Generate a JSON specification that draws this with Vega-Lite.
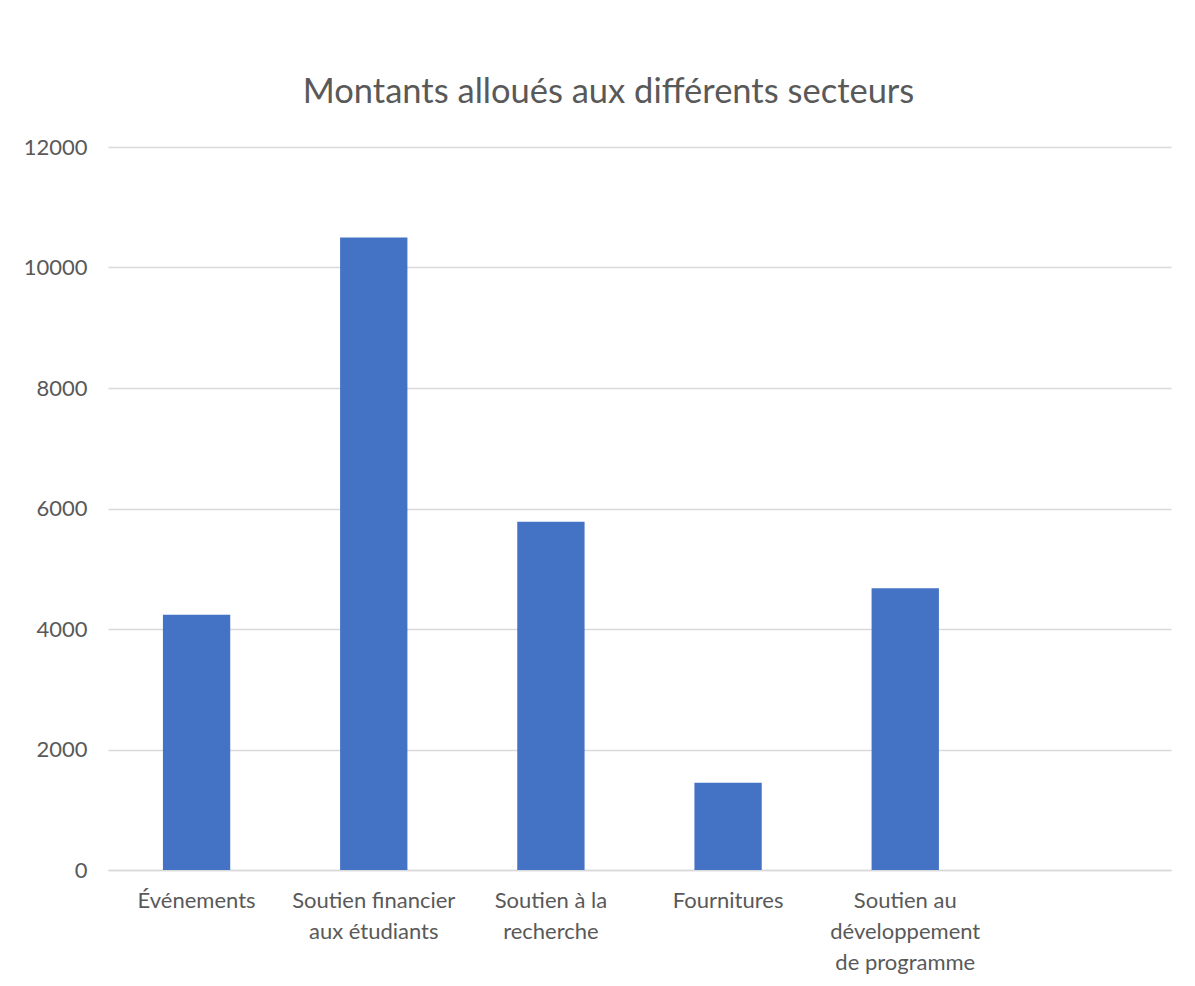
{
  "$schema": "https://vega.github.io/schema/vega-lite/v6.json",
  "width": 1063,
  "height": 723,
  "autosize": {"type": "none"},
  "padding": {"left": 108, "top": 147, "right": 24, "bottom": 116},
  "background": "white",
  "title": {
    "text": "Montants alloués aux différents secteurs",
    "fontSize": 34.5,
    "font": "Lato",
    "fontWeight": "normal",
    "color": "#595959",
    "anchor": "middle",
    "dx": -31,
    "offset": 26
  },
  "data": {
    "values": [
      {"secteur": "Événements", "montant": 4235},
      {"secteur": "Soutien financier aux étudiants", "montant": 10500},
      {"secteur": "Soutien à la recherche", "montant": 5780},
      {"secteur": "Fournitures", "montant": 1450},
      {"secteur": "Soutien au développement de programme", "montant": 4675}
    ]
  },
  "mark": {"type": "bar", "color": "#4472C4"},
  "encoding": {
    "x": {
      "field": "secteur",
      "type": "nominal",
      "sort": null,
      "scale": {
        "domain": ["Événements", "Soutien financier aux étudiants", "Soutien à la recherche", "Fournitures", "Soutien au développement de programme", " "],
        "paddingInner": 0.62,
        "paddingOuter": 0.31
      },
      "axis": {
        "title": null,
        "labelAngle": 0,
        "labelFont": "Lato",
        "labelFontSize": 22,
        "labelColor": "#595959",
        "labelPadding": 20,
        "labelLineHeight": 31,
        "labelBaseline": "top",
        "ticks": false,
        "domainColor": "#d9d9d9",
        "domainWidth": 1.5,
        "labelExpr": "datum.label == 'Soutien financier aux étudiants' ? ['Soutien financier', 'aux étudiants'] : datum.label == 'Soutien à la recherche' ? ['Soutien à la', 'recherche'] : datum.label == 'Soutien au développement de programme' ? ['Soutien au', 'développement', 'de programme'] : datum.label"
      }
    },
    "y": {
      "field": "montant",
      "type": "quantitative",
      "scale": {"domain": [0, 12000], "nice": false},
      "axis": {
        "title": null,
        "format": "d",
        "values": [0, 2000, 4000, 6000, 8000, 10000, 12000],
        "labelFont": "Lato",
        "labelFontSize": 22,
        "labelColor": "#595959",
        "labelPadding": 21,
        "ticks": false,
        "domain": false,
        "gridColor": "#d9d9d9",
        "gridWidth": 1.5
      }
    }
  },
  "config": {"view": {"stroke": null}}
}
